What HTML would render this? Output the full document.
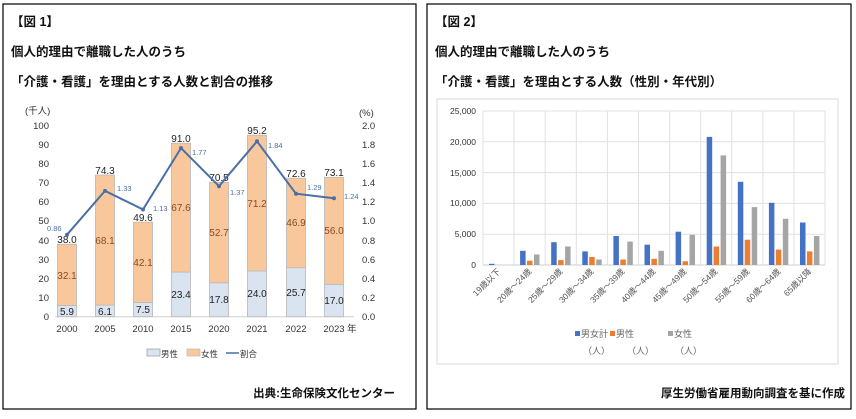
<!DOCTYPE html>
<html><head><meta charset="utf-8">
<style>
html,body{margin:0;padding:0;background:#fff;}
body{width:856px;height:414px;overflow:hidden;font-family:"Liberation Sans","Noto Sans CJK JP",sans-serif;}
text{font-family:"Liberation Sans","Noto Sans CJK JP",sans-serif;}
.t{font-size:12.5px;font-weight:bold;fill:#111;}
.ax{font-size:9.5px;fill:#333;}
.v{font-size:10px;fill:#222;}
.vf{font-size:10px;fill:#8a4a20;}
.r{font-size:7.5px;fill:#4a6fa5;}
</style></head><body>
<svg width="856" height="414" xmlns="http://www.w3.org/2000/svg">
<rect x="3" y="4" width="413" height="405" fill="none" stroke="#000" stroke-width="1.2"/>
<rect x="427" y="4" width="424" height="405" fill="none" stroke="#000" stroke-width="1.2"/>
<text class="t" x="11" y="26">【図 1】</text>
<text class="t" x="11" y="56">個人的理由で離職した人のうち</text>
<text class="t" x="11" y="86">「介護・看護」を理由とする人数と割合の推移</text>
<text class="t" x="435" y="26">【図 2】</text>
<text class="t" x="435" y="56">個人的理由で離職した人のうち</text>
<text class="t" x="435" y="86">「介護・看護」を理由とする人数（性別・年代別）</text>

<!-- left chart -->
<text class="ax" x="25" y="114">(千人)</text>
<text class="ax" x="359" y="116">(%)</text>
<g class="ax" text-anchor="end">
<text x="49" y="129">100</text><text x="49" y="148">90</text><text x="49" y="167">80</text><text x="49" y="186">70</text><text x="49" y="205">60</text><text x="49" y="224">50</text><text x="49" y="244">40</text><text x="49" y="263">30</text><text x="49" y="282">20</text><text x="49" y="301">10</text><text x="49" y="320">0</text>
</g>
<g class="ax">
<text x="362" y="129">2.0</text><text x="362" y="148">1.8</text><text x="362" y="167">1.6</text><text x="362" y="186">1.4</text><text x="362" y="205">1.2</text><text x="362" y="224">1.0</text><text x="362" y="244">0.8</text><text x="362" y="263">0.6</text><text x="362" y="282">0.4</text><text x="362" y="301">0.2</text><text x="362" y="320">0.0</text>
</g>
<line x1="55" y1="316.7" x2="354" y2="316.7" stroke="#d0d0d0"/>
<g stroke="#b8b8b8" stroke-width="0.8">
<rect x="57.5" y="305.5" width="19" height="11.2" fill="#dae3f0"/><rect x="57.5" y="244.2" width="19" height="61.3" fill="#f8c89c"/>
<rect x="95.5" y="305.1" width="19" height="11.6" fill="#dae3f0"/><rect x="95.5" y="175" width="19" height="130.1" fill="#f8c89c"/>
<rect x="133.5" y="302.4" width="19" height="14.3" fill="#dae3f0"/><rect x="133.5" y="222.1" width="19" height="80.3" fill="#f8c89c"/>
<rect x="171.5" y="272.1" width="19" height="44.6" fill="#dae3f0"/><rect x="171.5" y="143.2" width="19" height="128.9" fill="#f8c89c"/>
<rect x="209.5" y="282.8" width="19" height="33.9" fill="#dae3f0"/><rect x="209.5" y="182.3" width="19" height="100.5" fill="#f8c89c"/>
<rect x="247.5" y="270.9" width="19" height="45.8" fill="#dae3f0"/><rect x="247.5" y="135.2" width="19" height="135.7" fill="#f8c89c"/>
<rect x="286.5" y="267.7" width="19" height="49" fill="#dae3f0"/><rect x="286.5" y="178.2" width="19" height="89.5" fill="#f8c89c"/>
<rect x="324.5" y="284.3" width="19" height="32.4" fill="#dae3f0"/><rect x="324.5" y="177.3" width="19" height="107" fill="#f8c89c"/>
</g>
<g class="v" text-anchor="middle">
<text x="67" y="315">5.9</text><text x="105" y="315">6.1</text><text x="143" y="313">7.5</text><text x="181" y="298">23.4</text><text x="219" y="303">17.8</text><text x="257" y="297">24.0</text><text x="296" y="296">25.7</text><text x="334" y="304">17.0</text>
<text x="67" y="243">38.0</text><text x="105" y="174">74.3</text><text x="143" y="221">49.6</text><text x="181" y="142">91.0</text><text x="219" y="181">70.5</text><text x="257" y="134">95.2</text><text x="296" y="177">72.6</text><text x="334" y="176">73.1</text>
</g>
<g class="vf" text-anchor="middle">
<text x="67" y="279">32.1</text><text x="105" y="244">68.1</text><text x="143" y="266">42.1</text><text x="181" y="211">67.6</text><text x="219" y="236">52.7</text><text x="257" y="207">71.2</text><text x="296" y="226">46.9</text><text x="334" y="234">56.0</text>
</g>
<polyline points="67,234.7 105,190.9 143,209.5 181,148.1 219,186.2 257,141.3 296,193.7 334,198.3" fill="none" stroke="#4a6fa5" stroke-width="2"/>
<g fill="#4a6fa5"><circle cx="67" cy="234.7" r="2"/><circle cx="105" cy="190.9" r="2"/><circle cx="143" cy="209.5" r="2"/><circle cx="181" cy="148.1" r="2"/><circle cx="219" cy="186.2" r="2"/><circle cx="257" cy="141.3" r="2"/><circle cx="296" cy="193.7" r="2"/><circle cx="334" cy="198.3" r="2"/></g>
<g class="r">
<text x="47" y="231">0.86</text><text x="117" y="191">1.33</text><text x="153" y="211">1.13</text><text x="192" y="155">1.77</text><text x="230" y="195">1.37</text><text x="268" y="148">1.84</text><text x="307" y="190">1.29</text><text x="344" y="199">1.24</text>
</g>
<g class="ax" text-anchor="middle">
<text x="67" y="332">2000</text><text x="105" y="332">2005</text><text x="143" y="332">2010</text><text x="181" y="332">2015</text><text x="219" y="332">2020</text><text x="257" y="332">2021</text><text x="296" y="332">2022</text><text x="334" y="332">2023</text>
</g>
<text class="ax" x="347" y="332">年</text>
<rect x="147" y="349" width="13" height="7" fill="#dae3f0" stroke="#999" stroke-width="0.7"/>
<text x="161" y="357" style="font-size:8.5px" fill="#333">男性</text>
<rect x="187" y="349" width="13" height="7" fill="#f8c89c" stroke="#bbb" stroke-width="0.7"/>
<text x="201" y="357" style="font-size:8.5px" fill="#333">女性</text>
<line x1="226" y1="353" x2="239" y2="353" stroke="#4a6fa5" stroke-width="1.5"/>
<text x="240" y="357" style="font-size:8.5px" fill="#333">割合</text>
<text class="t" x="395" y="397" text-anchor="end" style="font-size:11.5px">出典:生命保険文化センター</text>

<!-- right chart -->
<rect x="437" y="99" width="401" height="265" fill="#fff" stroke="#d9d9d9"/>
<g stroke="#e0e0e0" stroke-width="1">
<line x1="483" y1="111" x2="825" y2="111"/><line x1="483" y1="141.8" x2="825" y2="141.8"/><line x1="483" y1="172.6" x2="825" y2="172.6"/><line x1="483" y1="203.4" x2="825" y2="203.4"/><line x1="483" y1="234.2" x2="825" y2="234.2"/>
<line x1="483" y1="111" x2="483" y2="265"/><line x1="514.1" y1="111" x2="514.1" y2="265"/><line x1="545.2" y1="111" x2="545.2" y2="265"/><line x1="576.3" y1="111" x2="576.3" y2="265"/><line x1="607.4" y1="111" x2="607.4" y2="265"/><line x1="638.5" y1="111" x2="638.5" y2="265"/><line x1="669.6" y1="111" x2="669.6" y2="265"/><line x1="700.7" y1="111" x2="700.7" y2="265"/><line x1="731.8" y1="111" x2="731.8" y2="265"/><line x1="762.9" y1="111" x2="762.9" y2="265"/><line x1="794" y1="111" x2="794" y2="265"/><line x1="825" y1="111" x2="825" y2="265"/>
</g>
<line x1="483" y1="265" x2="825" y2="265" stroke="#cfcfcf"/>
<g class="ax" text-anchor="end" style="font-size:8.5px" fill="#555">
<text x="476" y="114">25,000</text><text x="476" y="145">20,000</text><text x="476" y="176">15,000</text><text x="476" y="206">10,000</text><text x="476" y="237">5,000</text><text x="476" y="268">0</text>
</g>
<g>
<rect x="489" y="263.8" width="5.5" height="1.2" fill="#4472c4"/>
<rect x="520.1" y="250.8" width="5.5" height="14.2" fill="#4472c4"/><rect x="527" y="260.7" width="5.5" height="4.3" fill="#ed7d31"/><rect x="534" y="254.5" width="5.5" height="10.5" fill="#a5a5a5"/>
<rect x="551.2" y="242.2" width="5.5" height="22.8" fill="#4472c4"/><rect x="558.1" y="260.1" width="5.5" height="4.9" fill="#ed7d31"/><rect x="565.1" y="246.5" width="5.5" height="18.5" fill="#a5a5a5"/>
<rect x="582.3" y="251.4" width="5.5" height="13.6" fill="#4472c4"/><rect x="589.2" y="257" width="5.5" height="8" fill="#ed7d31"/><rect x="596.2" y="259.5" width="5.5" height="5.5" fill="#a5a5a5"/>
<rect x="613.4" y="236" width="5.5" height="29" fill="#4472c4"/><rect x="620.3" y="259.5" width="5.5" height="5.5" fill="#ed7d31"/><rect x="627.3" y="241.6" width="5.5" height="23.4" fill="#a5a5a5"/>
<rect x="644.5" y="244.7" width="5.5" height="20.3" fill="#4472c4"/><rect x="651.4" y="258.8" width="5.5" height="6.2" fill="#ed7d31"/><rect x="658.4" y="250.8" width="5.5" height="14.2" fill="#a5a5a5"/>
<rect x="675.6" y="231.7" width="5.5" height="33.3" fill="#4472c4"/><rect x="682.5" y="261.3" width="5.5" height="3.7" fill="#ed7d31"/><rect x="689.5" y="234.8" width="5.5" height="30.2" fill="#a5a5a5"/>
<rect x="706.7" y="136.9" width="5.5" height="128.1" fill="#4472c4"/><rect x="713.6" y="246.5" width="5.5" height="18.5" fill="#ed7d31"/><rect x="720.6" y="155.4" width="5.5" height="109.6" fill="#a5a5a5"/>
<rect x="737.8" y="181.8" width="5.5" height="83.2" fill="#4472c4"/><rect x="744.7" y="239.7" width="5.5" height="25.3" fill="#ed7d31"/><rect x="751.7" y="207.1" width="5.5" height="57.9" fill="#a5a5a5"/>
<rect x="768.9" y="202.8" width="5.5" height="62.2" fill="#4472c4"/><rect x="775.8" y="249.6" width="5.5" height="15.4" fill="#ed7d31"/><rect x="782.8" y="218.8" width="5.5" height="46.2" fill="#a5a5a5"/>
<rect x="800" y="222.5" width="5.5" height="42.5" fill="#4472c4"/><rect x="806.9" y="251.4" width="5.5" height="13.6" fill="#ed7d31"/><rect x="813.9" y="236" width="5.5" height="29" fill="#a5a5a5"/>
</g>
<g style="font-size:8.5px" fill="#555" text-anchor="end">
<text transform="translate(501,272) rotate(-45)">19歳以下</text>
<text transform="translate(532,272) rotate(-45)">20歳～24歳</text>
<text transform="translate(563,272) rotate(-45)">25歳～29歳</text>
<text transform="translate(594,272) rotate(-45)">30歳～34歳</text>
<text transform="translate(625,272) rotate(-45)">35歳～39歳</text>
<text transform="translate(656,272) rotate(-45)">40歳～44歳</text>
<text transform="translate(687,272) rotate(-45)">45歳～49歳</text>
<text transform="translate(718,272) rotate(-45)">50歳～54歳</text>
<text transform="translate(750,272) rotate(-45)">55歳～59歳</text>
<text transform="translate(781,272) rotate(-45)">60歳～64歳</text>
<text transform="translate(812,272) rotate(-45)">65歳以降</text>
</g>
<g style="font-size:9px" fill="#666">
<rect x="575" y="331" width="5" height="5" fill="#4472c4"/><text x="581" y="337">男女計</text>
<rect x="610" y="331" width="5" height="5" fill="#ed7d31"/><text x="616" y="337">男性</text>
<rect x="668" y="331" width="5" height="5" fill="#a5a5a5"/><text x="674" y="337">女性</text>
<text x="583" y="354">（人）</text><text x="627" y="354">（人）</text><text x="675" y="354">（人）</text>
</g>
<text class="t" x="845" y="397" text-anchor="end" style="font-size:11.5px">厚生労働省雇用動向調査を基に作成</text>
</svg>
</body></html>
